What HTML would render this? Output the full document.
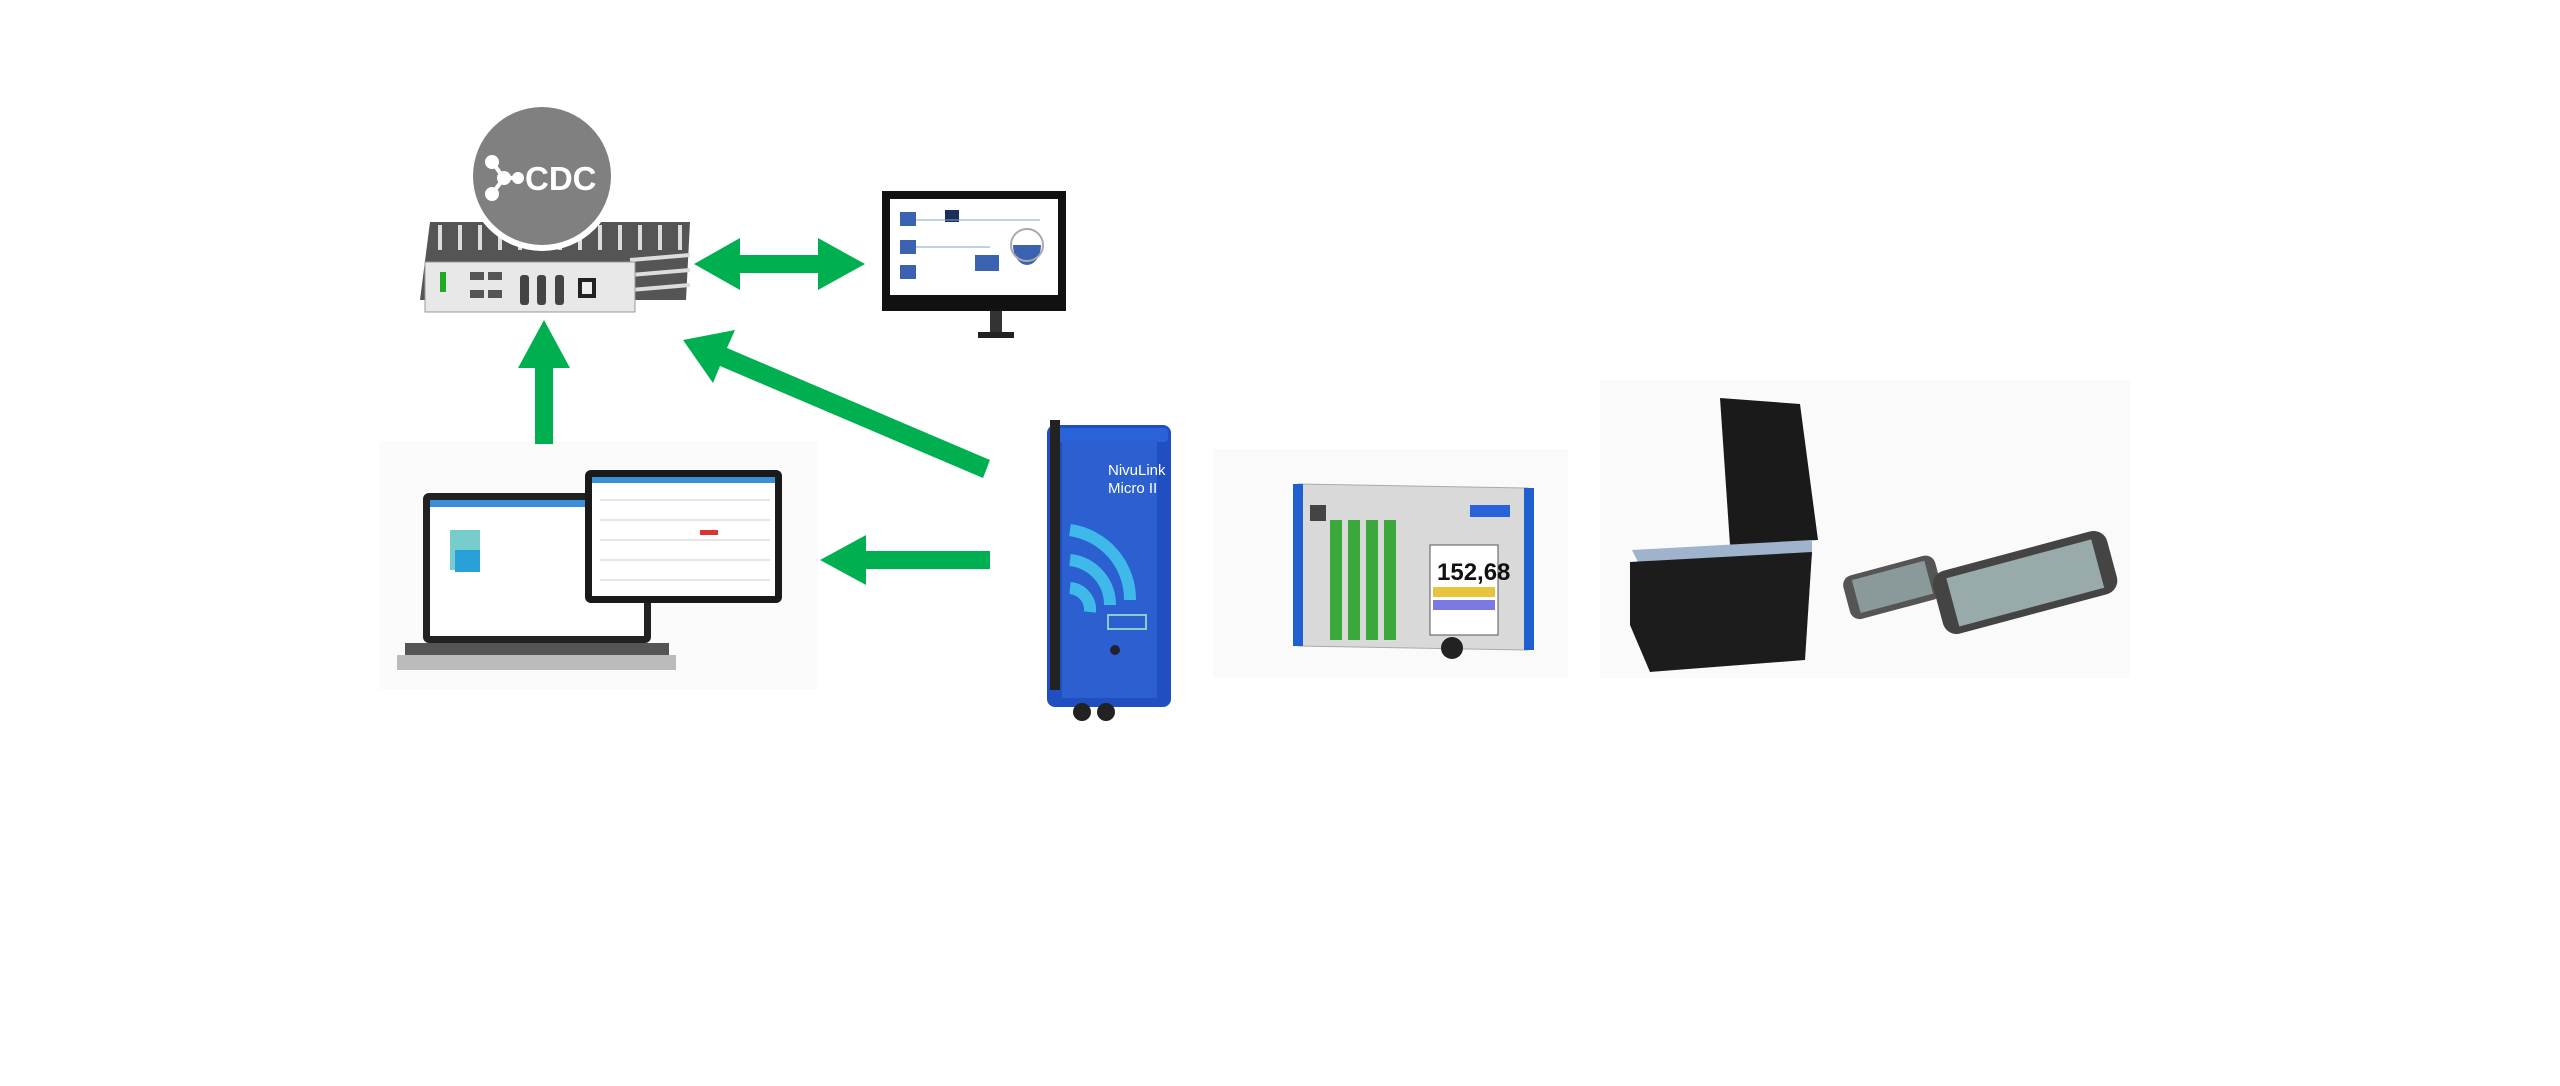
<!DOCTYPE html>
<html><head><meta charset="utf-8"><style>
html,body{margin:0;padding:0;background:#fff;}
svg{display:block;}
</style></head><body>
<svg width="2560" height="1086" viewBox="0 0 2560 1086" xmlns="http://www.w3.org/2000/svg" font-family="Liberation Sans, sans-serif">
<rect x="379" y="441" width="438" height="248" fill="#fbfbfb"/>
<rect x="1213" y="449" width="355" height="228" fill="#fafafa"/>
<rect x="1600" y="380" width="530" height="298" fill="#fafafa"/>

<!-- server box -->
<g>
<polygon points="430,222 690,222 686,300 420,300" fill="#555"/>
<g stroke="#ddd" stroke-width="4">
<line x1="440" y1="225" x2="440" y2="250"/><line x1="460" y1="225" x2="460" y2="250"/><line x1="480" y1="225" x2="480" y2="250"/><line x1="500" y1="225" x2="500" y2="250"/><line x1="520" y1="225" x2="520" y2="250"/><line x1="560" y1="225" x2="560" y2="250"/><line x1="580" y1="225" x2="580" y2="250"/><line x1="600" y1="225" x2="600" y2="250"/><line x1="620" y1="225" x2="620" y2="250"/><line x1="640" y1="225" x2="640" y2="250"/><line x1="660" y1="225" x2="660" y2="250"/><line x1="680" y1="225" x2="680" y2="250"/>
<line x1="630" y1="260" x2="690" y2="255"/><line x1="630" y1="275" x2="690" y2="270"/><line x1="630" y1="290" x2="690" y2="285"/>
</g>
<rect x="425" y="262" width="210" height="50" fill="#e8e8e8" stroke="#999"/>
<rect x="470" y="272" width="14" height="8" fill="#555"/><rect x="470" y="290" width="14" height="8" fill="#555"/>
<rect x="488" y="272" width="14" height="8" fill="#555"/><rect x="488" y="290" width="14" height="8" fill="#555"/>
<rect x="520" y="275" width="9" height="30" rx="3" fill="#444"/><rect x="537" y="275" width="9" height="30" rx="3" fill="#444"/><rect x="555" y="275" width="9" height="30" rx="3" fill="#444"/>
<rect x="578" y="278" width="18" height="20" fill="#222"/><rect x="582" y="282" width="10" height="12" fill="#eee"/>
<rect x="440" y="272" width="6" height="20" fill="#2a2"/>
</g>
<circle cx="542" cy="176" r="75" fill="#fff"/>
<circle cx="542" cy="176" r="69" fill="#808080"/>
<g stroke="#fff" stroke-width="4" fill="#fff">
<line x1="504" y1="178" x2="492" y2="162"/><line x1="504" y1="178" x2="492" y2="194"/><line x1="504" y1="178" x2="518" y2="178"/>
<circle cx="504" cy="178" r="5"/><circle cx="492" cy="162" r="5"/><circle cx="492" cy="194" r="5"/><circle cx="518" cy="178" r="4"/>
</g>
<text x="525" y="190" font-size="33" font-weight="bold" fill="#fff">CDC</text>

<!-- monitor -->
<rect x="882" y="191" width="184" height="120" fill="#111"/>
<rect x="890" y="199" width="168" height="96" fill="#fff"/>
<rect x="990" y="311" width="12" height="22" fill="#333"/>
<rect x="978" y="332" width="36" height="6" fill="#222"/>
<g fill="#3a62b0">
<rect x="900" y="212" width="16" height="14"/><rect x="900" y="240" width="16" height="14"/><rect x="900" y="265" width="16" height="14"/>
<rect x="975" y="255" width="24" height="16"/>
<path d="M1013,245 a14,20 0 0,0 28,0 z"/>
</g>
<circle cx="1027" cy="245" r="16" fill="none" stroke="#aaa" stroke-width="2"/>
<rect x="945" y="210" width="14" height="12" fill="#1c2f5a"/>
<line x1="916" y1="220" x2="1040" y2="220" stroke="#7ab" stroke-width="1"/>
<line x1="916" y1="247" x2="990" y2="247" stroke="#7ab" stroke-width="1"/>

<g fill="#00b050">
<polygon points="694,264 740,238 740,255 818,255 818,238 865,264 818,290 818,273 740,273 740,290"/>
<polygon points="535,444 553,444 553,368 570,368 544,320 518,368 535,368"/>
<polygon points="683,340 735,330 727,348 990,460 983,478 720,366 713,383"/>
<polygon points="820,560 866,535 866,551 990,551 990,569 866,569 866,585"/>
</g>

<!-- laptop -->
<rect x="423" y="493" width="228" height="150" rx="6" fill="#222"/>
<rect x="430" y="500" width="214" height="136" fill="#fff"/>
<rect x="430" y="500" width="214" height="7" fill="#3b8fd8"/>
<rect x="450" y="530" width="30" height="40" fill="#7cc"/>
<rect x="455" y="550" width="25" height="22" fill="#2aa0d8"/>
<polygon points="397,655 676,655 676,670 397,670" fill="#bbb"/>
<rect x="405" y="643" width="264" height="12" fill="#555"/>
<rect x="585" y="470" width="197" height="133" rx="6" fill="#1a1a1a"/>
<rect x="592" y="477" width="183" height="119" fill="#fff"/>
<rect x="592" y="477" width="183" height="6" fill="#3b8fd8"/>
<g stroke="#ccc" stroke-width="1">
<line x1="600" y1="500" x2="770" y2="500"/><line x1="600" y1="520" x2="770" y2="520"/><line x1="600" y1="540" x2="770" y2="540"/><line x1="600" y1="560" x2="770" y2="560"/><line x1="600" y1="580" x2="770" y2="580"/>
</g>
<rect x="700" y="530" width="18" height="5" fill="#d33"/>

<!-- NivuLink -->
<rect x="1047" y="425" width="124" height="282" rx="8" fill="#1f4fc0"/>
<rect x="1050" y="428" width="118" height="14" rx="4" fill="#2a62da"/>
<rect x="1062" y="440" width="95" height="258" fill="#2c5fd0"/>
<rect x="1050" y="420" width="10" height="270" fill="#222"/>
<text x="1108" y="475" font-size="15" fill="#fff">NivuLink</text>
<text x="1108" y="493" font-size="15" fill="#fff">Micro II</text>
<g fill="none" stroke="#3fb8ea" stroke-width="12">
<path d="M1070,530 A70,70 0 0 1 1130,600"/>
<path d="M1070,560 A45,45 0 0 1 1110,605"/>
<path d="M1070,588 A22,22 0 0 1 1090,612"/>
</g>
<rect x="1108" y="615" width="38" height="14" fill="none" stroke="#8cc" stroke-width="2"/>
<circle cx="1115" cy="650" r="5" fill="#223"/>
<circle cx="1082" cy="712" r="9" fill="#222"/><circle cx="1106" cy="712" r="9" fill="#222"/>

<!-- controller -->
<polygon points="1298,484 1528,488 1528,650 1298,646" fill="#d9d9d9" stroke="#aaa"/>
<rect x="1293" y="484" width="10" height="162" fill="#1f5fd0"/>
<rect x="1524" y="488" width="10" height="162" fill="#1f5fd0"/>
<rect x="1310" y="505" width="16" height="16" fill="#444"/>
<g fill="#3aa83a">
<rect x="1330" y="520" width="12" height="120"/><rect x="1348" y="520" width="12" height="120"/><rect x="1366" y="520" width="12" height="120"/><rect x="1384" y="520" width="12" height="120"/>
</g>
<rect x="1430" y="545" width="68" height="90" fill="#fff" stroke="#555"/>
<text x="1437" y="580" font-size="24" font-weight="bold" fill="#111">152,68</text>
<rect x="1433" y="587" width="62" height="10" fill="#e8c43a"/>
<rect x="1433" y="600" width="62" height="10" fill="#7a7ae0"/>
<circle cx="1452" cy="648" r="11" fill="#222"/>
<rect x="1470" y="505" width="40" height="12" fill="#2a62da"/>

<!-- case -->
<polygon points="1720,398 1800,404 1818,540 1730,545" fill="#1a1a1a"/>
<polygon points="1632,550 1812,540 1812,556 1640,566" fill="#9fb3cc"/>
<polygon points="1630,562 1812,552 1805,660 1650,672 1630,625" fill="#1c1c1c"/>
<rect x="1845" y="565" width="95" height="45" rx="10" fill="#555" transform="rotate(-15 1892 587)"/>
<rect x="1855" y="570" width="75" height="34" fill="#8a9a9a" transform="rotate(-15 1892 587)"/>
<rect x="1935" y="550" width="180" height="65" rx="14" fill="#444" transform="rotate(-15 2025 582)"/>
<rect x="1950" y="558" width="150" height="50" fill="#9aa" transform="rotate(-15 2025 582)"/>
</svg>
</body></html>
